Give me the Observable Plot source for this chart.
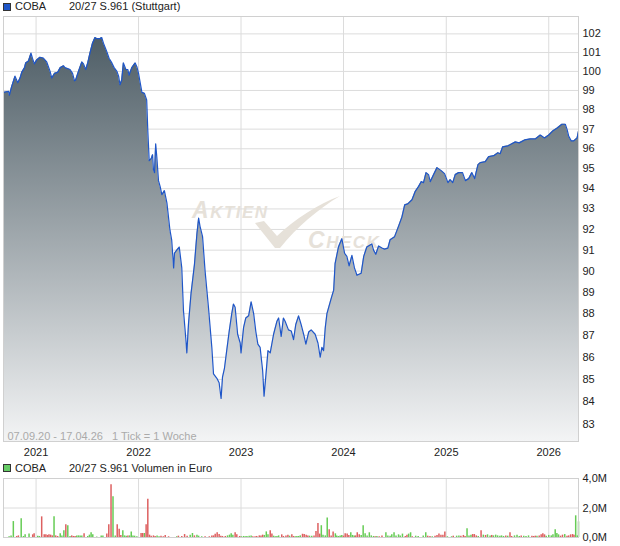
<!DOCTYPE html>
<html><head><meta charset="utf-8">
<script src="https://cdn.jsdelivr.net/npm/d3@7"></script>
<script src="https://cdn.jsdelivr.net/npm/@observablehq/plot@0.6"></script>
<style>
body{margin:0;background:#fff;font-family:"Liberation Sans",Arial,sans-serif;}
#wrap{position:relative;width:620px;height:546px;overflow:hidden;}
.leg{position:absolute;left:0;width:620px;height:13px;font-size:11px;line-height:13px;color:#222;white-space:nowrap;}
.leg span{position:absolute;top:0;}
.sw{position:absolute;left:3px;top:3px;width:6px;height:6px;border:1px solid #333;}
#price,#vol{position:absolute;left:0;}
#price{top:0;} #vol{top:470px;}
</style></head>
<body><div id="wrap">
<div class="leg" id="leg1" style="top:0px"><div class="sw" style="background:#1f56c8"></div><span style="left:15px">COBA</span><span style="left:69px">20/27 S.961 (Stuttgart)</span></div>
<div id="price"></div>
<div class="leg" id="leg2" style="top:462px"><div class="sw" style="background:#66cc66;top:2px"></div><span style="left:15px">COBA</span><span style="left:69px">20/27 S.961 Volumen in Euro</span></div>
<div id="vol"></div>
</div>
<script>
const priceDates = ["2020-09-07","2020-09-25","2020-09-28","2020-10-06","2020-10-18","2020-10-28","2020-11-05","2020-11-11","2020-11-21","2020-11-25","2020-12-05","2020-12-14","2020-12-19","2020-12-26",
"2021-01-03","2021-01-15","2021-01-27","2021-02-08","2021-02-20","2021-02-26","2021-03-08","2021-03-19","2021-03-28","2021-04-09","2021-04-14","2021-05-02","2021-05-11","2021-05-18","2021-05-22","2021-06-01","2021-06-13","2021-06-19","2021-06-27","2021-07-04","2021-07-12","2021-07-21","2021-07-30","2021-08-05","2021-08-17","2021-08-23","2021-08-29","2021-09-10","2021-09-18","2021-09-28","2021-10-06","2021-10-16","2021-10-22","2021-10-27","2021-11-02","2021-11-08","2021-11-17","2021-11-24","2021-11-28","2021-12-08","2021-12-20","2021-12-26",
"2022-01-01","2022-01-07","2022-01-13","2022-01-22","2022-01-30","2022-02-03","2022-02-08","2022-02-15","2022-02-20","2022-02-23","2022-02-27","2022-03-03","2022-03-07","2022-03-13","2022-03-19","2022-03-25","2022-04-03","2022-04-12","2022-04-23","2022-04-29","2022-05-06","2022-05-09","2022-05-17","2022-05-26","2022-06-04","2022-06-10","2022-06-18","2022-06-22","2022-06-28","2022-07-07","2022-07-19","2022-07-28","2022-08-03","2022-08-08","2022-08-17","2022-08-26","2022-09-07","2022-09-19","2022-09-25","2022-10-07","2022-10-15","2022-10-22","2022-10-27","2022-11-03","2022-11-11","2022-11-20","2022-11-29","2022-12-05","2022-12-11","2022-12-20","2022-12-29",
"2023-01-01","2023-01-10","2023-01-18","2023-01-28","2023-02-06","2023-02-15","2023-02-23","2023-03-02","2023-03-10","2023-03-19","2023-03-24","2023-03-30","2023-04-07","2023-04-15","2023-04-27","2023-05-09","2023-05-15","2023-05-24","2023-06-01","2023-06-07","2023-06-19","2023-06-29","2023-07-07","2023-07-15","2023-07-25","2023-08-03","2023-08-12","2023-08-20","2023-08-30","2023-09-08","2023-09-22","2023-10-02","2023-10-10","2023-10-16","2023-10-22","2023-10-28","2023-11-03","2023-11-18","2023-11-27","2023-12-02","2023-12-14","2023-12-26",
"2024-01-05","2024-01-13","2024-01-21","2024-01-31","2024-02-09","2024-02-18","2024-03-04","2024-03-13","2024-03-24","2024-04-11","2024-04-17","2024-04-25","2024-05-05","2024-05-17","2024-05-26","2024-06-07","2024-06-15","2024-07-01","2024-07-15","2024-07-27","2024-08-06","2024-08-17","2024-09-01","2024-09-12","2024-09-24","2024-10-04","2024-10-12","2024-10-21","2024-10-30","2024-11-05","2024-11-17","2024-11-29","2024-12-14","2024-12-26",
"2025-01-07","2025-01-15","2025-01-24","2025-02-02","2025-02-14","2025-02-28","2025-03-10","2025-03-22","2025-04-02","2025-04-12","2025-04-24","2025-05-02","2025-05-20","2025-06-01","2025-06-19","2025-07-04","2025-07-12","2025-07-21","2025-08-09","2025-09-04","2025-09-18","2025-10-07","2025-10-27","2025-11-14","2025-12-02","2025-12-17",
"2026-01-01","2026-01-15","2026-01-30","2026-02-17","2026-03-01","2026-03-07","2026-03-13","2026-03-22","2026-03-31","2026-04-12","2026-04-17"];
const priceValues = [98.9,98.95,98.75,99.2,99.75,99.4,99.65,99.95,100.2,100.45,100.55,100.97,100.7,100.4,
100.6,100.75,100.7,100.5,100.0,99.65,99.9,99.95,100.2,100.3,100.2,100.1,99.9,99.5,99.55,100.0,100.5,100.4,100.1,100.45,100.97,101.5,101.8,101.75,101.75,101.8,101.5,101.05,100.7,100.45,100.2,100.0,99.75,99.3,99.55,100.45,100.1,100.1,99.8,100.2,100.45,100.25,
99.9,99.4,98.9,98.85,98.5,96.9,95.4,95.5,95.7,94.95,94.8,96.25,95.6,94.4,94.1,93.7,93.9,93.3,91.95,91.5,90.15,90.85,91.0,91.15,90.15,88.15,86.9,86.2,87.55,88.95,90.3,91.8,92.55,92.15,91.65,90.0,88.3,86.45,85.25,85.05,84.85,84.15,85.1,85.5,86.3,87.2,88.0,88.45,88.3,87.05,86.65,
86.2,87.35,87.8,87.9,88.55,88.0,87.15,86.6,86.45,85.4,84.25,85.1,86.3,86.2,87.05,87.65,87.8,86.95,87.8,87.65,87.25,87.2,86.8,87.5,87.9,87.5,87.05,86.6,87.15,87.25,87.05,86.65,86.0,86.45,86.3,87.35,88.0,88.7,89.1,90.35,91.15,91.55,
90.85,90.7,90.25,90.75,90.15,89.8,89.9,90.7,91.15,91.3,91.0,90.8,91.2,91.1,91.05,91.1,91.5,91.65,92.15,92.6,93.2,93.25,93.45,93.85,94.1,94.35,94.3,94.8,94.7,94.35,94.7,95.05,94.9,94.75,
94.3,94.45,94.3,94.7,94.8,94.8,94.4,94.5,94.8,94.5,95.2,95.3,95.35,95.6,95.65,95.8,95.75,96.1,96.15,96.35,96.3,96.45,96.5,96.5,96.7,96.55,
96.7,96.9,97.05,97.25,97.25,97.0,96.65,96.4,96.4,96.55,96.9];

const volDates = ["2020-09-27","2020-10-04","2020-10-12","2020-10-24","2020-10-30","2020-11-09","2020-11-17","2020-11-23","2020-12-07","2020-12-20","2020-12-25",
"2021-01-07","2021-01-13","2021-01-21","2021-01-30","2021-02-05","2021-02-11","2021-02-16","2021-02-22","2021-02-28","2021-03-06","2021-03-12","2021-03-19","2021-03-28","2021-04-03","2021-04-10","2021-04-17","2021-04-24","2021-05-02","2021-05-08","2021-05-14","2021-05-20","2021-05-26","2021-06-01","2021-06-07","2021-06-13","2021-06-21","2021-07-04","2021-07-10","2021-07-16","2021-07-22","2021-08-05","2021-08-21","2021-08-27","2021-09-10","2021-09-17","2021-09-25","2021-10-02","2021-10-10","2021-10-17","2021-10-24","2021-10-30","2021-11-06","2021-11-12","2021-11-18","2021-11-24","2021-11-30","2021-12-06","2021-12-12","2021-12-18","2021-12-26",
"2022-01-10","2022-01-16","2022-01-22","2022-01-28","2022-02-03","2022-02-09","2022-02-15","2022-02-23","2022-03-01","2022-03-08","2022-03-15","2022-03-22","2022-03-30","2022-04-06","2022-04-18","2022-05-17","2022-05-23","2022-06-04","2022-06-14","2022-06-23","2022-07-04","2022-07-12","2022-07-19","2022-07-28","2022-08-03","2022-08-14","2022-08-26","2022-09-10","2022-09-19","2022-09-25","2022-10-01","2022-10-08","2022-10-15","2022-10-21","2022-10-27","2022-11-06","2022-11-14","2022-11-21","2022-11-27","2022-12-03","2022-12-11","2022-12-17","2022-12-27",
"2023-01-02","2023-01-10","2023-01-16","2023-01-22","2023-01-30","2023-02-06","2023-02-12","2023-02-20","2023-02-26","2023-03-07","2023-03-13","2023-03-19","2023-03-25","2023-04-01","2023-04-07","2023-04-15","2023-04-21","2023-04-27","2023-05-03","2023-05-09","2023-05-15","2023-05-26","2023-06-01","2023-06-10","2023-06-17","2023-06-23","2023-07-01","2023-07-07","2023-07-13","2023-07-19","2023-07-25","2023-07-31","2023-08-08","2023-08-14","2023-08-21","2023-08-27","2023-09-02","2023-09-10","2023-09-18","2023-09-25","2023-10-02","2023-10-08","2023-10-14","2023-10-20","2023-10-28","2023-11-04","2023-11-11","2023-11-18","2023-11-25","2023-12-03","2023-12-08","2023-12-14","2023-12-20","2023-12-26",
"2024-01-01","2024-01-07","2024-01-14","2024-01-20","2024-01-27","2024-02-02","2024-02-08","2024-02-13","2024-02-19","2024-02-26","2024-03-04","2024-03-11","2024-03-18","2024-03-25","2024-04-02","2024-04-09","2024-04-17","2024-04-23","2024-04-29","2024-05-07","2024-05-17","2024-05-31","2024-06-07","2024-06-15","2024-06-21","2024-06-29","2024-07-06","2024-07-15","2024-07-21","2024-07-29","2024-08-08","2024-08-14","2024-08-20","2024-08-27","2024-09-02","2024-09-14","2024-09-23","2024-10-11","2024-10-20","2024-10-27","2024-11-04","2024-11-12","2024-11-22","2024-11-29","2024-12-06","2024-12-13","2024-12-20","2024-12-27",
"2025-01-05","2025-01-20","2025-01-26","2025-02-07","2025-02-15","2025-02-22","2025-03-03","2025-03-09","2025-03-16","2025-03-23","2025-03-30","2025-04-05","2025-04-11","2025-04-18","2025-04-25","2025-05-05","2025-05-13","2025-05-21","2025-05-28","2025-06-06","2025-06-12","2025-06-18","2025-06-26","2025-07-03","2025-07-11","2025-07-17","2025-07-24","2025-08-01","2025-08-08","2025-08-16","2025-08-22","2025-09-01","2025-09-10","2025-09-18","2025-09-25","2025-10-04","2025-10-12","2025-10-21","2025-11-02","2025-11-08","2025-11-14","2025-11-20","2025-11-28","2025-12-05","2025-12-11","2025-12-17","2025-12-23",
"2026-01-01","2026-01-10","2026-01-16","2026-01-24","2026-01-30","2026-02-05","2026-02-12","2026-02-19","2026-02-27","2026-03-07","2026-03-13","2026-03-20","2026-03-27","2026-04-01","2026-04-07","2026-04-13","2026-04-17"];
const volValues = [0.05,0.11,1.08,0.07,0.11,1.27,0.07,0.18,0.23,0.18,0.25,
0.09,0.07,1.4,0.18,0.18,0.14,0.18,0.16,0.11,1.4,0.11,0.07,0.25,0.11,0.45,0.86,0.79,0.07,0.11,0.07,0.07,0.11,0.11,0.11,0.11,0.25,0.07,0.16,0.32,0.18,0.03,0.11,0.11,0.23,0.86,3.57,2.76,0.11,0.86,0.56,0.14,0.45,0.11,0.09,0.11,0.11,0.38,0.11,0.09,0.05,
0.27,0.27,0.27,0.86,2.6,0.16,0.09,0.11,0.07,0.11,0.05,0.09,0.05,0.14,0.05,0.05,0.09,0.07,0.2,0.09,0.16,0.27,0.11,0.16,0.09,0.05,0.05,0.05,0.11,0.11,0.22,0.32,0.2,0.09,0.07,0.07,0.11,0.16,0.25,0.16,0.32,0.18,0.07,
0.05,0.07,0.05,0.07,0.09,0.11,0.05,0.05,0.07,0.11,0.11,0.16,0.14,0.38,0.18,0.45,0.23,0.09,0.05,0.07,0.11,0.18,0.07,0.11,0.16,0.09,0.18,0.07,0.05,0.07,0.07,0.11,0.22,0.2,0.16,0.11,0.09,0.09,0.11,0.4,0.95,0.23,0.8,0.16,0.11,1.33,0.52,0.11,0.38,0.25,0.11,0.07,0.11,0.14,
0.09,0.25,0.23,0.14,0.32,0.14,0.11,0.11,0.32,0.18,0.14,0.8,0.25,0.11,0.32,0.11,0.07,0.05,0.07,0.05,0.11,0.32,0.11,0.09,0.18,0.32,0.11,0.18,0.11,0.23,0.07,0.16,0.23,0.32,0.05,0.09,0.07,0.11,0.32,0.09,0.07,0.05,0.09,0.14,0.23,0.16,0.16,0.38,
0.05,0.05,0.09,0.09,0.11,0.09,0.14,0.07,0.59,0.11,0.16,0.2,0.2,0.11,0.07,0.45,0.16,0.14,0.18,0.11,0.14,0.11,0.16,0.11,0.09,0.11,0.07,0.11,0.09,0.32,0.07,0.11,0.16,0.07,0.11,0.09,0.07,0.11,0.09,0.07,0.09,0.09,0.11,0.18,0.25,0.18,0.09,
0.14,0.11,0.18,0.52,0.27,0.18,0.09,0.16,0.2,0.09,0.11,0.18,0.2,0.16,1.47,0.11,1.06];
const volUp = [1,1,1,0,0,1,1,1,1,0,0,
1,1,0,0,0,0,0,0,0,1,0,0,1,1,1,0,1,1,0,0,0,1,1,1,1,0,1,1,1,1,1,1,1,0,0,0,1,1,0,0,0,1,1,1,0,1,1,1,1,1,
0,0,1,0,0,0,0,0,0,1,1,0,0,0,0,1,0,0,0,0,1,1,0,1,1,1,0,0,0,0,0,0,0,0,0,0,1,1,1,1,0,0,0,
1,1,1,1,1,1,0,0,0,0,0,0,1,1,1,0,0,1,1,1,1,0,0,0,0,1,0,0,1,1,1,1,0,0,0,0,1,1,0,0,0,0,1,1,1,1,0,0,0,1,1,1,1,1,
0,0,0,0,1,1,1,0,0,0,1,1,1,1,1,1,1,0,1,0,0,1,1,1,1,1,1,1,1,1,0,0,1,1,0,1,1,1,1,0,0,1,0,0,0,0,0,0,
1,1,0,1,1,0,0,0,1,1,1,0,0,0,1,0,1,0,1,1,0,1,1,1,1,1,1,0,1,0,0,1,1,1,0,1,1,1,0,0,0,1,0,0,0,0,1,
1,1,1,1,1,1,0,0,1,0,0,0,0,0,1,1,1];

const yearTicks = [2021, 2022, 2023, 2024, 2025, 2026];
const priceTicks = [83,84,85,86,87,88,89,90,91,92,93,94,95,96,97,98,99,100,101,102];
const priceDomain = [82.26, 102.94];
const volTicks = [0, 2, 4];
const volDomain = [0, 4];
const rangeNote = "07.09.20 - 17.04.26   1 Tick = 1 Woche";

const parse = d3.utcParse("%Y-%m-%d");
const price = priceDates.map((d, i) => ({date: parse(d), value: priceValues[i]}));
const vol = volDates.map((d, i) => ({date: parse(d), v: volValues[i], up: volUp[i] === 1}));
const xDomain = [parse(priceDates[0]), parse(priceDates[priceDates.length - 1])];
const yearDates = yearTicks.map(y => new Date(Date.UTC(y, 0, 1)));
const gridColor = "#dcdcdc";
const font = {fontFamily: "'Liberation Sans', Arial, sans-serif", fontSize: "11px", color: "#222", background: "transparent"};

const chart = Plot.plot({
  width: 620, height: 462,
  marginTop: 16, marginBottom: 21, marginLeft: 3, marginRight: 42,
  style: font,
  x: {type: "utc", domain: xDomain, label: null},
  y: {type: "log", domain: priceDomain, label: null},
  marks: [
    Plot.gridX(yearDates, {stroke: gridColor, strokeOpacity: 1}),
    Plot.gridY(priceTicks, {stroke: gridColor, strokeOpacity: 1}),
    Plot.areaY(price, {x: "date", y1: priceDomain[0], y2: "value", fill: "url(#priceGrad)"}),
    Plot.lineY(price, {x: "date", y: "value", stroke: "#1f56c8", strokeWidth: 1.2}),
    Plot.frame({stroke: "#d0d0d0"}),
    Plot.axisX(yearDates, {tickSize: 0, tickPadding: 7, tickFormat: d3.utcFormat("%Y"), label: null}),
    Plot.axisY(priceTicks, {anchor: "right", tickSize: 0, tickPadding: 4, tickFormat: d => String(d), label: null}),
    Plot.text([rangeNote], {frameAnchor: "bottom-left", dx: 4, dy: -2, fill: "#aaa", text: d => d, fontSize: 11})
  ]
});

// gradient + watermark
const ns = "http://www.w3.org/2000/svg";
const svg = d3.select(chart);
const defs = svg.insert("defs", ":first-child");
const lg = defs.append("linearGradient").attr("id", "priceGrad")
  .attr("gradientUnits", "userSpaceOnUse").attr("x1", 0).attr("x2", 0).attr("y1", 16).attr("y2", 441);
lg.append("stop").attr("offset", "0%").attr("stop-color", "#46565f");
lg.append("stop").attr("offset", "100%").attr("stop-color", "#f3f4f5");

const areaG = chart.querySelector('g[aria-label="area"]');
const wm = document.createElementNS(ns, "g");
wm.setAttribute("fill", "#e6e1d9");
wm.setAttribute("text-anchor", "start");
wm.setAttribute("font-family", "'Liberation Sans', Arial, sans-serif");
wm.setAttribute("font-style", "italic");
wm.setAttribute("font-weight", "bold");
wm.innerHTML = '<text x="192" y="218" font-size="17" letter-spacing="1.5" text-anchor="start"><tspan font-size="23">A</tspan>KTIEN</text>' +
  '<text x="308" y="248" font-size="17" letter-spacing="1.5" text-anchor="start"><tspan font-size="23">C</tspan>HECK</text>' +
  '<path d="M255,223 L264,221 L277,236 C295,219 318,204 340,196 C318,209 297,227 280,248 L275,248 Z"/>';
areaG.parentNode.insertBefore(wm, areaG);

document.getElementById("price").appendChild(chart);

const volChart = Plot.plot({
  width: 620, height: 76,
  marginTop: 8, marginBottom: 9, marginLeft: 3, marginRight: 42,
  style: font,
  x: {type: "utc", domain: xDomain, axis: null, label: null},
  y: {domain: volDomain, label: null},
  marks: [
    Plot.gridX(yearDates, {stroke: gridColor, strokeOpacity: 1}),
    Plot.gridY([2], {stroke: gridColor, strokeOpacity: 1}),
    Plot.ruleX(vol.filter(d => d.up), {x: "date", y1: 0, y2: "v", stroke: "#66cc55", strokeWidth: 1.5}),
    Plot.ruleX(vol.filter(d => !d.up), {x: "date", y1: 0, y2: "v", stroke: "#dd6060", strokeWidth: 1.5}),
    Plot.frame({stroke: "#d0d0d0"}),
    Plot.axisY(volTicks, {anchor: "right", tickSize: 0, tickPadding: 4, label: null, tickFormat: d => d.toFixed(1).replace(".", ",") + "M"})
  ]
});
document.getElementById("vol").appendChild(volChart);
</script>
</body></html>
